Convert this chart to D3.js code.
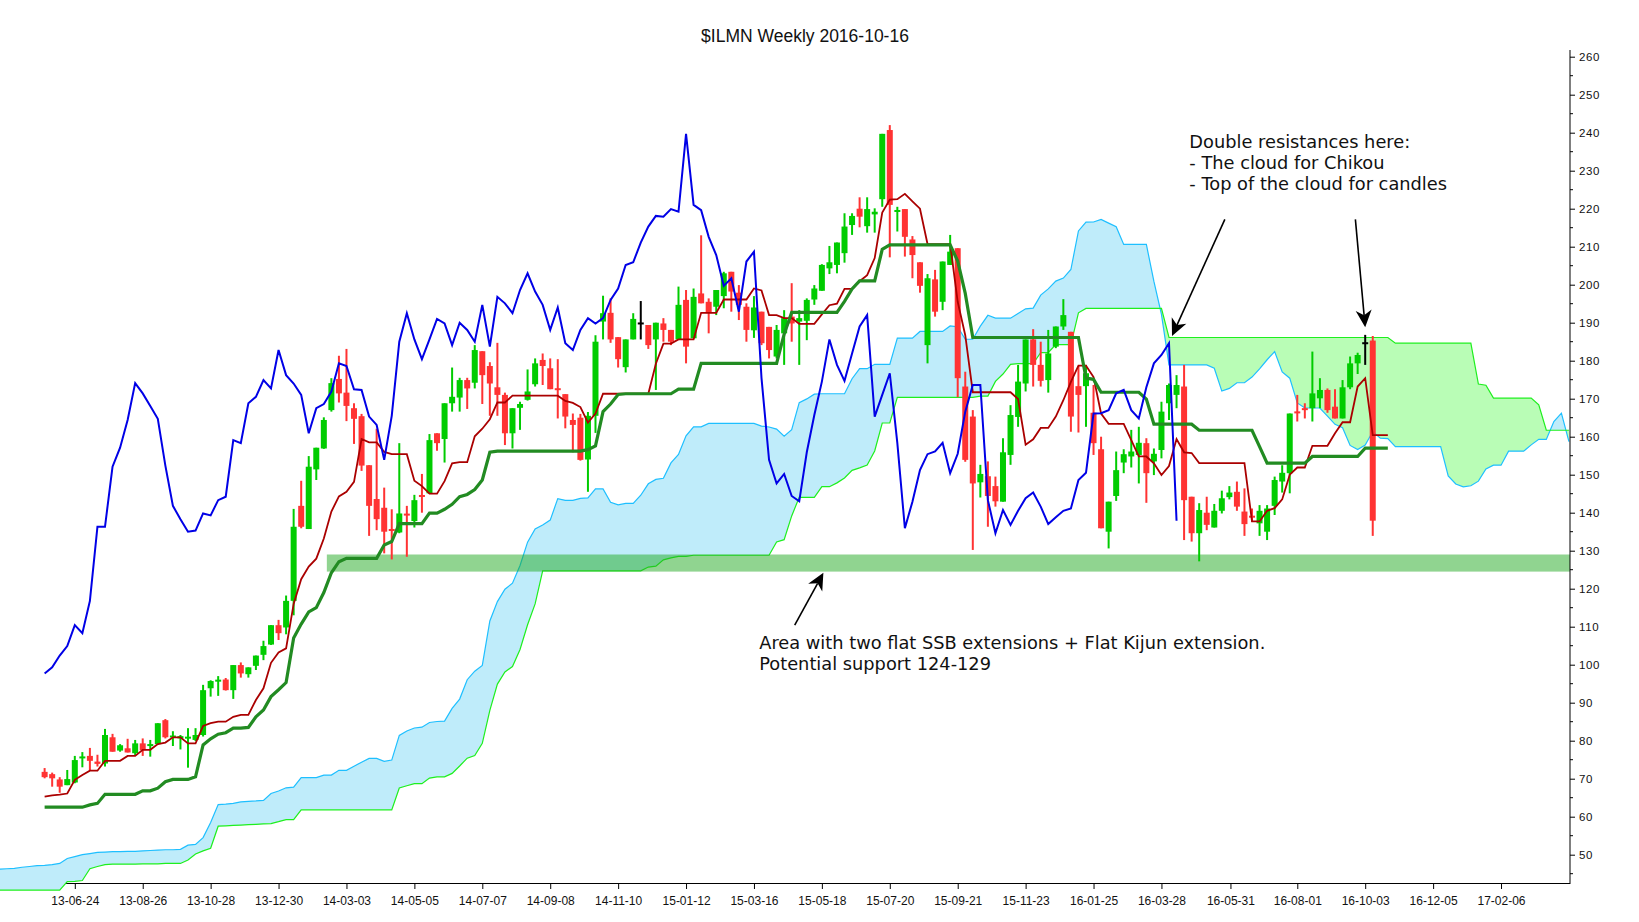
<!DOCTYPE html>
<html><head><meta charset="utf-8">
<script src="https://cdn.jsdelivr.net/npm/d3@7"></script>
<style>body{margin:0;background:#fff;} svg{display:block;}</style>
</head><body>
<svg id="chart" width="1639" height="922"></svg>
<script>
// ---------------- DATA ----------------
// weeks are counted from 2013-06-24 (week 0); first candle is week -4 (2013-05-27)
const baseDate = "2013-06-24";
const firstCandleWeek = -4;
const open = [71.8,71.2,69.8,68.3,
 69.0,75.4,76.0,74.5,74.0,80.9,77.4,78.0,76.7,79.3,
 78.6,79.1,85.4,80.9,80.6,80.7,80.2,81.5,93.8,95.7,
 96.1,93.3,99.9,97.5,99.7,102.6,105.3,110.4,109.8,116.8,
 141.8,135.7,151.4,156.9,167.0,175.2,171.6,167.5,165.4,152.5,
 143.6,141.3,135.6,134.8,139.7,137.8,144.6,145.1,160.9,159.4,
 168.8,170.3,174.9,174.2,182.5,178.6,173.0,171.0,160.9,167.6,
 169.7,173.8,180.2,178.0,172.7,171.2,164.4,165.0,154.0,165.5,
 190.3,192.6,186.2,178.3,185.6,189.8,189.4,185.6,189.8,188.1,
 185.6,196.0,185.9,197.7,195.5,194.2,197.0,203.4,197.9,194.2,
 188.0,192.9,188.9,181.1,187.2,191.6,190.3,190.5,196.1,198.4,
 204.3,205.2,208.3,215.7,220.0,215.4,218.5,222.5,240.7,219.2,
 219.9,211.9,205.9,184.1,201.4,195.5,205.2,209.6,173.2,165.3,
 148.0,149.6,147.0,142.9,155.2,165.2,174.0,185.6,178.9,174.9,
 183.7,189.0,187.6,173.3,173.3,166.3,156.7,135.0,144.4,153.2,
 154.8,155.2,158.3,153.5,156.5,168.8,171.0,173.2,144.2,134.6,
 140.0,136.1,140.5,144.1,145.5,140.3,139.1,137.2,135.0,141.8,
 148.2,150.4,166.6,167.5,167.5,170.1,172.3,167.9,164.8,173.0,
 179.3,184.6,185.3];
const high = [72.8,71.6,70.4,72.3,
 76.0,77.0,78.1,76.3,83.1,81.8,79.1,80.5,80.2,80.6,
 80.2,84.6,85.7,82.5,81.5,83.3,83.3,94.7,95.9,97.0,
 96.5,99.9,100.6,99.3,102.4,106.3,110.4,111.8,118.2,141.0,
 148.4,154.9,157.1,165.1,175.4,181.3,183.1,168.8,166.0,152.5,
 162.1,146.6,140.9,158.3,141.8,144.7,150.2,160.7,160.9,168.8,
 178.2,175.5,175.5,184.1,182.5,179.6,184.7,171.6,167.5,169.2,
 177.7,180.6,181.9,180.6,180.4,171.2,166.1,166.0,166.5,186.7,
 197.1,196.4,186.2,185.6,192.5,195.7,189.4,190.0,191.2,188.1,
 199.5,198.6,199.0,213.0,196.4,198.6,203.4,203.4,199.9,195.1,
 197.0,192.9,188.9,189.4,193.3,200.4,193.3,196.4,199.9,205.4,
 210.2,211.1,218.8,218.8,223.0,223.0,220.1,239.7,242.0,220.5,
 219.9,212.8,205.9,202.8,203.9,206.1,213.1,209.6,177.1,167.0,
 152.6,153.5,149.5,159.6,168.3,178.9,185.6,188.3,185.0,188.1,
 189.0,196.2,187.6,178.6,178.9,173.6,160.0,142.9,156.1,156.7,
 161.8,162.6,159.6,156.9,169.2,174.0,176.2,178.9,144.2,142.5,
 144.2,142.3,145.8,147.0,148.2,146.4,141.1,142.0,142.0,149.5,
 152.5,166.1,171.0,168.8,182.4,175.4,172.7,172.5,174.9,181.1,
 182.1,186.8,186.5];
const low = [70.1,67.9,66.3,68.3,
 68.8,73.0,72.1,73.2,73.2,77.1,77.1,76.9,76.2,76.0,
 75.8,78.9,80.6,78.6,77.7,72.9,79.9,81.1,91.6,91.8,
 93.2,91.0,96.6,96.6,98.6,101.2,105.2,106.5,108.0,113.0,
 135.9,135.7,148.6,156.8,166.6,169.0,164.1,158.1,151.0,133.9,
 135.4,129.3,127.7,134.6,128.4,136.1,140.0,145.1,156.3,153.2,
 166.6,166.6,167.3,172.7,168.6,165.5,165.5,157.8,156.9,161.8,
 169.5,173.2,173.6,172.5,164.8,162.2,155.9,153.7,145.5,161.0,
 185.6,184.7,178.2,176.9,185.6,185.6,183.1,172.3,185.0,184.1,
 185.6,179.3,185.9,195.1,187.2,192.0,193.8,192.9,190.7,185.0,
 186.0,184.1,180.6,180.6,178.9,185.0,178.9,185.4,194.7,198.4,
 202.8,203.0,205.8,213.1,215.1,213.7,213.7,220.5,207.2,214.0,
 207.4,201.7,197.9,179.3,191.6,193.3,205.2,170.4,153.4,130.2,
 144.0,136.3,141.6,142.9,152.6,162.6,171.9,173.2,173.2,171.6,
 183.3,188.1,161.3,161.1,162.6,155.2,135.9,130.6,143.1,150.4,
 151.9,147.7,142.6,149.9,154.3,164.4,167.5,132.8,132.4,127.2,
 135.4,136.1,139.8,143.5,140.5,133.9,137.6,133.9,132.8,139.4,
 145.3,145.1,164.0,164.8,164.0,167.5,166.3,164.8,164.8,172.5,
 176.5,178.9,133.9];
const close = [70.4,70.1,67.9,69.9,
 74.9,75.8,74.7,73.9,81.5,77.1,78.8,76.9,79.3,77.5,
 79.1,84.6,80.9,81.3,81.2,80.9,81.5,93.3,95.7,95.9,
 93.3,99.9,97.7,99.3,102.4,104.9,110.4,108.3,116.8,136.3,
 136.3,152.1,157.1,164.4,174.1,171.4,168.1,164.7,152.4,141.8,
 138.3,135.0,135.3,139.8,139.3,143.3,144.2,159.1,158.3,168.8,
 170.5,174.9,172.7,182.8,176.2,174.0,171.0,160.9,167.5,168.6,
 171.9,179.3,178.6,172.5,172.3,165.3,163.1,153.9,165.5,185.0,
 192.5,185.6,180.4,185.6,191.0,189.8,184.1,190.0,188.1,185.0,
 194.7,183.7,196.8,195.1,192.5,198.6,203.0,198.2,194.7,188.1,
 194.0,184.6,182.8,188.1,191.2,189.8,191.2,196.0,199.0,205.2,
 205.9,211.1,215.3,218.1,217.9,219.9,219.2,239.7,221.0,219.6,
 212.6,207.8,199.7,201.7,192.9,206.1,208.7,175.4,153.9,147.7,
 150.2,144.4,143.0,155.9,165.7,174.5,185.6,178.9,174.7,181.9,
 189.0,192.0,165.3,171.0,176.7,158.3,135.9,142.9,151.2,155.4,
 156.1,158.4,150.4,155.5,166.6,173.6,173.6,143.3,134.6,140.7,
 136.8,140.5,143.8,145.3,141.6,137.0,138.8,140.5,141.1,148.6,
 150.5,166.1,166.2,167.0,171.4,172.3,167.0,164.8,173.0,179.3,
 181.5,184.6,137.9];
// Tenkan-sen and Kijun-sen, week -4 .. week 174
const tenkan = [65.3,65.6,65.8,66.1,
 69.7,71.0,72.1,72.1,74.7,74.7,74.7,76.0,76.0,77.6,
 77.6,79.1,79.5,80.9,80.9,79.3,79.3,83.9,84.6,85.0,
 85.0,86.3,86.8,86.8,90.7,93.8,100.5,103.2,104.3,116.0,
 122.5,125.8,127.9,133.2,140.3,144.3,145.5,148.1,159.4,158.5,
 158.5,156.0,155.4,155.4,155.4,148.4,147.0,145.0,145.0,148.3,
 153.0,153.3,153.3,160.1,162.1,164.6,169.0,169.0,170.8,170.8,
 170.8,170.8,170.8,170.8,170.8,169.4,168.9,167.8,163.7,166.1,
 171.3,171.3,171.3,171.3,171.3,171.3,171.3,179.2,184.5,184.5,
 185.6,185.6,185.6,192.6,192.6,192.6,196.1,196.1,196.1,196.1,
 199.0,198.5,192.0,192.0,191.2,191.2,189.7,189.7,189.7,192.2,
 194.6,195.0,198.9,198.9,200.9,202.5,207.0,219.0,222.4,222.5,
 223.9,221.9,220.0,210.7,210.7,210.7,210.7,195.5,186.7,171.7,
 171.7,171.7,171.7,171.7,171.7,169.9,157.9,159.3,162.3,162.3,
 165.3,169.6,174.4,178.7,178.7,175.7,166.1,163.4,163.4,163.4,
 159.1,154.8,154.8,153.0,149.9,152.3,159.4,155.9,155.7,153.05,
 153.05,153.05,153.05,153.05,153.05,153.05,137.7,137.7,140.5,141.2,
 143.5,150.0,151.9,151.9,157.6,157.6,157.6,160.9,163.8,163.8,
 173.2,175.4,160.4,160.4,160.4];
const kijun = [62.5,62.5,62.5,62.5,
 62.5,62.5,63.1,63.5,65.9,65.9,65.9,65.9,65.9,66.8,
 66.8,67.5,69.2,69.8,69.8,69.8,70.5,78.9,80.5,81.7,
 82.1,83.3,83.3,83.5,86.3,88.1,91.6,93.4,95.3,107.0,
 110.7,113.9,115.0,119.0,124.2,127.1,128.0,128.0,128.0,128.0,
 128.0,131.5,132.4,137.1,137.1,137.1,137.1,139.9,139.9,140.9,
 142.2,144.2,144.8,146.1,148.6,155.9,156.2,156.2,156.2,156.2,
 156.2,156.2,156.2,156.2,156.2,156.2,156.2,156.2,156.6,157.6,
 166.6,168.6,171.1,171.3,171.3,171.3,171.3,171.3,171.3,171.3,
 172.5,172.5,172.5,179.3,179.3,179.3,179.3,179.3,179.3,179.3,
 179.3,179.3,179.3,179.3,187.0,192.7,192.7,192.7,192.7,192.7,
 192.7,192.7,195.6,198.9,201.0,201.0,201.0,209.3,210.5,210.5,
 210.5,210.5,210.5,210.5,210.5,210.5,210.5,206.2,197.7,186.1,
 186.1,186.1,186.1,186.1,186.1,186.1,186.1,186.1,186.1,186.1,
 186.1,186.1,186.1,186.1,175.4,175.1,171.7,171.7,171.7,171.7,
 171.7,171.7,169.9,163.3,163.3,163.3,163.3,163.3,163.3,161.7,
 161.7,161.7,161.7,161.7,161.7,161.7,161.7,157.4,153.05,153.05,
 153.05,153.05,153.05,153.05,154.8,154.8,154.8,154.8,154.8,154.8,
 154.8,157.0,157.0,157.0,157.0];
// Senkou span A / B (plotted 26 weeks ahead), week -10 .. week 198
const senkouFirstWeek = -10;
const senkouA = [46.2,46.3,46.4,46.7,46.9,47.1,47.2,47.4,47.7,49.0,
 49.5,50.0,50.3,50.6,50.7,50.8,50.8,50.9,50.9,51.0,
 51.1,51.2,51.3,51.3,51.4,52.5,52.7,54.5,58.5,63.2,
 63.3,63.5,63.9,64.05,64.15,64.3,66.1,66.75,67.6,67.8,
 70.3,70.3,70.3,70.95,70.95,72.2,72.2,73.3,74.35,75.35,
 75.35,74.55,74.9,81.4,82.55,83.35,83.55,84.8,85.05,85.15,
 88.5,90.95,96.05,98.3,99.8,111.5,116.6,119.85,121.45,126.1,
 132.25,135.7,136.75,138.05,143.7,143.25,143.25,143.75,143.9,146.25,
 146.25,142.75,142.05,142.45,142.45,144.6,147.6,148.75,149.05,153.1,
 155.35,160.25,162.6,162.6,163.5,163.5,163.5,163.5,163.5,163.5,
 163.5,162.8,162.55,162.0,160.15,161.85,168.95,169.95,171.2,171.3,
 171.3,171.3,171.3,175.25,177.9,177.9,179.05,179.05,179.05,185.95,
 185.95,185.95,187.7,187.7,187.7,187.7,189.15,188.9,185.65,185.65,
 189.1,191.95,191.2,191.2,191.2,192.45,193.65,193.85,197.25,198.9,
 200.95,201.75,204.0,214.15,216.45,216.5,217.2,216.2,215.25,210.6,
 210.6,210.6,210.6,200.85,192.2,178.9,178.9,178.9,178.9,178.9,
 178.9,178.0,172.0,172.7,174.2,174.2,175.7,177.85,180.25,182.4,
 177.05,175.4,168.9,167.55,167.55,167.55,165.4,163.25,162.35,157.7,
 156.6,157.8,161.35,159.6,159.5,157.4,157.4,157.4,157.4,157.4,
 157.4,157.4,149.7,147.55,146.8,147.1,148.3,151.5,152.5,152.5,
 156.2,156.2,156.2,157.85,159.3,159.3,164.0,166.2,158.7];
const senkouB = [40.7,40.7,40.7,40.7,40.7,40.7,40.7,40.7,40.7,42.9,
 43.0,43.2,46.3,46.9,47.4,47.5,47.5,47.5,47.5,47.6,
 47.6,47.6,47.7,47.7,47.7,48.6,50.2,51.0,51.7,57.5,
 57.6,57.7,57.8,57.9,58.0,58.1,58.2,58.7,59.25,59.25,
 61.8,61.8,61.8,61.8,61.8,61.8,61.8,61.8,61.8,61.8,
 61.8,61.8,61.8,67.55,68.15,68.7,68.7,70.15,70.5,70.5,
 71.4,73.35,75.4,76.1,79.3,88.0,94.9,98.1,99.5,104.0,
 110.5,116.0,124.7,124.7,124.7,124.7,124.7,124.7,124.7,124.7,
 124.7,124.7,124.7,124.7,124.7,124.7,125.7,125.95,127.6,128.1,
 128.5,128.5,128.8,128.8,128.8,128.8,128.8,128.8,128.8,128.8,
 128.8,128.8,128.8,132.3,132.9,139.15,144.05,144.05,144.05,146.85,
 146.85,147.85,149.15,151.15,151.8,152.55,156.25,163.6,163.6,170.35,
 170.35,170.35,170.35,170.35,170.35,170.35,170.35,170.35,170.35,170.35,
 170.7,170.7,174.55,176.5,179.05,179.25,179.25,179.25,182.15,182.15,
 184.25,184.25,184.25,192.6,193.75,193.75,193.75,193.75,193.75,193.75,
 193.75,193.75,193.75,193.75,193.75,186.1,186.1,186.1,186.1,186.1,
 186.1,186.1,186.1,186.1,186.1,186.1,186.1,186.1,186.1,186.1,
 186.1,186.1,186.1,186.1,186.1,186.1,186.1,186.1,186.1,186.1,
 186.1,186.1,186.1,186.1,186.1,184.6,184.6,184.6,184.6,184.6,
 184.6,184.6,184.6,184.6,184.6,184.6,173.85,173.55,170.15,170.15,
 170.15,170.15,170.15,170.15,168.4,161.7,161.7,161.7,161.7];
const xTickLabels = ["13-06-24","13-08-26","13-10-28","13-12-30","14-03-03","14-05-05","14-07-07","14-09-08","14-11-10","15-01-12","15-03-16","15-05-18","15-07-20","15-09-21","15-11-23","16-01-25","16-03-28","16-05-31","16-08-01","16-10-03","16-12-05","17-02-06"];
const yTickValues = [50,60,70,80,90,100,110,120,130,140,150,160,170,180,190,200,210,220,230,240,250,260];
const yMinorTicks = [45,55,65,75,85,95,105,115,125,135,145,155,165,175,185,195,205,215,225,235,245,255];
const supportZone = {fromWeek:33.4, low:124.5, high:129};
const title = "$ILMN Weekly 2016-10-16";
const note1 = {week:147.7, value:235.9, lines:["Double resistances here:","- The cloud for Chikou","- Top of the cloud for candles"]};
const note2 = {week:90.7, value:104.2, lines:["Area with two flat SSB extensions + Flat Kijun extension.","Potential support 124-129"]};
const arrows = [[[152.4,217.2],[145.4,186.5]],[[169.7,217.2],[171.0,188.8]],[[95.4,110.4],[99.2,124.2]]];

// ---------------- CHART ----------------
const W = 1639, H = 922;
const plot = {left:0, right:1570, top:50, bottom:883};
const base = d3.utcParse("%Y-%m-%d")(baseDate).getTime();
const wk = k => new Date(base + k * 7 * 864e5);
const x = d3.scaleUtc().domain([wk(-9.913), wk(198.14)]).range([plot.left, plot.right]);
const y = d3.scaleLinear().domain([50, 260]).range([854.7, 56.7]);
const X = k => x(wk(k));

const svg = d3.select("#chart");
svg.append("rect").attr("width", W).attr("height", H).attr("fill", "#fff");
const defs = svg.append("defs");
defs.append("clipPath").attr("id", "plotClip").append("rect")
  .attr("x", plot.left).attr("y", plot.top).attr("width", plot.right - plot.left).attr("height", plot.bottom - plot.top);
defs.append("clipPath").attr("id", "cloudClip").append("rect")
  .attr("x", plot.left).attr("y", plot.top).attr("width", plot.right - plot.left).attr("height", H - plot.top);

// x axis (drawn first: the cloud covers it at the far left)
const parseTick = d3.utcParse("%y-%m-%d");
const xAxis = d3.axisBottom(x).tickValues(xTickLabels.map(parseTick)).tickFormat(d3.utcFormat("%y-%m-%d")).tickSize(6).tickSizeOuter(0);
const gx = svg.append("g").attr("transform", `translate(0,${plot.bottom})`).call(xAxis);
gx.select(".domain").attr("stroke", "#000");
gx.selectAll(".tick line").attr("stroke", "#000");
gx.selectAll(".tick text").attr("y", 13).attr("font-family", "Liberation Sans, Arial, sans-serif").attr("font-size", 12).attr("fill", "#111");

// cloud
const sA = senkouA.map((v, i) => [senkouFirstWeek + i, v]);
const sB = senkouB.map((v, i) => [senkouFirstWeek + i, v]);
const areaDown = d3.area().x(d => X(d[0])).y0(H + 50).y1(d => y(d[1]));
const areaUp = d3.area().x(d => X(d[0])).y0(-50).y1(d => y(d[1]));
defs.append("clipPath").attr("id", "aboveB").append("path").attr("d", areaUp(sB));
defs.append("clipPath").attr("id", "aboveA").append("path").attr("d", areaUp(sA));
const line = d3.line().x(d => X(d[0])).y(d => y(d[1]));
const cloud = svg.append("g").attr("clip-path", "url(#cloudClip)");
cloud.append("path").attr("d", areaDown(sA)).attr("fill", "#bfecfa").attr("clip-path", "url(#aboveB)");
cloud.append("path").attr("d", areaDown(sB)).attr("fill", "#b9fdb6").attr("clip-path", "url(#aboveA)");
cloud.append("path").attr("d", line(sA)).attr("fill", "none").attr("stroke", "#1ebfff").attr("stroke-width", 1.2);
cloud.append("path").attr("d", line(sB)).attr("fill", "none").attr("stroke", "#1eef1e").attr("stroke-width", 1.2);

const g = svg.append("g").attr("clip-path", "url(#plotClip)");
// support zone
g.append("rect").attr("x", X(supportZone.fromWeek)).attr("width", plot.right - X(supportZone.fromWeek))
  .attr("y", y(supportZone.high)).attr("height", y(supportZone.low) - y(supportZone.high))
  .attr("fill", "rgb(34,170,34)").attr("fill-opacity", 0.5);

// candles
const candles = open.map((o, i) => ({k: firstCandleWeek + i, o, h: high[i], l: low[i], c: close[i]}));
const col = d => d.c > d.o ? "#00cc00" : (d.c < d.o ? "#ff3333" : "#000000");
const cg = g.append("g");
cg.selectAll("line.w").data(candles).join("line")
  .attr("x1", d => X(d.k)).attr("x2", d => X(d.k))
  .attr("y1", d => y(d.h)).attr("y2", d => y(d.l))
  .attr("stroke", col).attr("stroke-width", 2);
cg.selectAll("rect.b").data(candles).join("rect")
  .attr("x", d => X(d.k) - 3).attr("width", 6)
  .attr("y", d => { const t = y(Math.max(d.o, d.c)), b = y(Math.min(d.o, d.c)); return (b - t < 2) ? (t + b) / 2 - 1 : t; })
  .attr("height", d => Math.max(2, y(Math.min(d.o, d.c)) - y(Math.max(d.o, d.c))))
  .attr("fill", col);

// tenkan / kijun / chikou
const seriesLine = arr => arr.map((v, i) => [firstCandleWeek + i, v]);
g.append("path").attr("d", line(seriesLine(tenkan))).attr("fill", "none").attr("stroke", "#aa0000").attr("stroke-width", 1.8);
g.append("path").attr("d", line(seriesLine(kijun))).attr("fill", "none").attr("stroke", "#228b22").attr("stroke-width", 3.2);
const chikou = close.map((c, i) => [firstCandleWeek + i - 26, c]).filter((d, i) => i >= 26);
g.append("path").attr("d", line(chikou)).attr("fill", "none").attr("stroke", "#0000e6").attr("stroke-width", 2);

// y axis
const yAxis = d3.axisRight(y).tickValues(yTickValues).tickSize(5).tickPadding(4).tickSizeOuter(0);
const gy = svg.append("g").attr("transform", `translate(${plot.right},0)`).call(yAxis);
gy.select(".domain").attr("d", `M0,${plot.top}V${plot.bottom}`).attr("stroke", "#000");
gy.selectAll(".tick line").attr("stroke", "#000");
gy.selectAll(".tick text").attr("font-family", "Liberation Sans, Arial, sans-serif").attr("font-size", 11.5).attr("letter-spacing", "0.6px").attr("fill", "#111");
gy.selectAll("line.minor").data(yMinorTicks).join("line").attr("class", "minor")
  .attr("x1", 0).attr("x2", 3).attr("y1", d => y(d)).attr("y2", d => y(d)).attr("stroke", "#000");

// title
svg.append("text").attr("x", 805).attr("y", 42).attr("text-anchor", "middle")
  .attr("font-family", "Liberation Sans, Arial, sans-serif").attr("font-size", 17.5).attr("fill", "#111").text(title);

// annotations
function note(n) {
  const t = svg.append("text").attr("font-family", "DejaVu Sans, sans-serif").attr("font-size", 17.8).attr("fill", "#111");
  n.lines.forEach((s, i) => t.append("tspan").attr("x", X(n.week)).attr("y", y(n.value) + i * 21).text(s));
}
note(note1); note(note2);
function arrow(a) {
  const x1 = X(a[0][0]), y1 = y(a[0][1]), x2 = X(a[1][0]), y2 = y(a[1][1]);
  const ang = Math.atan2(y2 - y1, x2 - x1), L = 17, Wd = 8;
  const bx = x2 - L * Math.cos(ang), by = y2 - L * Math.sin(ang);
  const nx = x2 - (L - 5) * Math.cos(ang), ny = y2 - (L - 5) * Math.sin(ang);
  const px = -Math.sin(ang) * Wd, py = Math.cos(ang) * Wd;
  svg.append("line").attr("x1", x1).attr("y1", y1).attr("x2", nx).attr("y2", ny).attr("stroke", "#000").attr("stroke-width", 1.6);
  svg.append("path").attr("d", `M${x2},${y2}L${bx + px},${by + py}L${nx},${ny}L${bx - px},${by - py}Z`).attr("fill", "#000");
}
arrows.forEach(arrow);
</script>
</body></html>
